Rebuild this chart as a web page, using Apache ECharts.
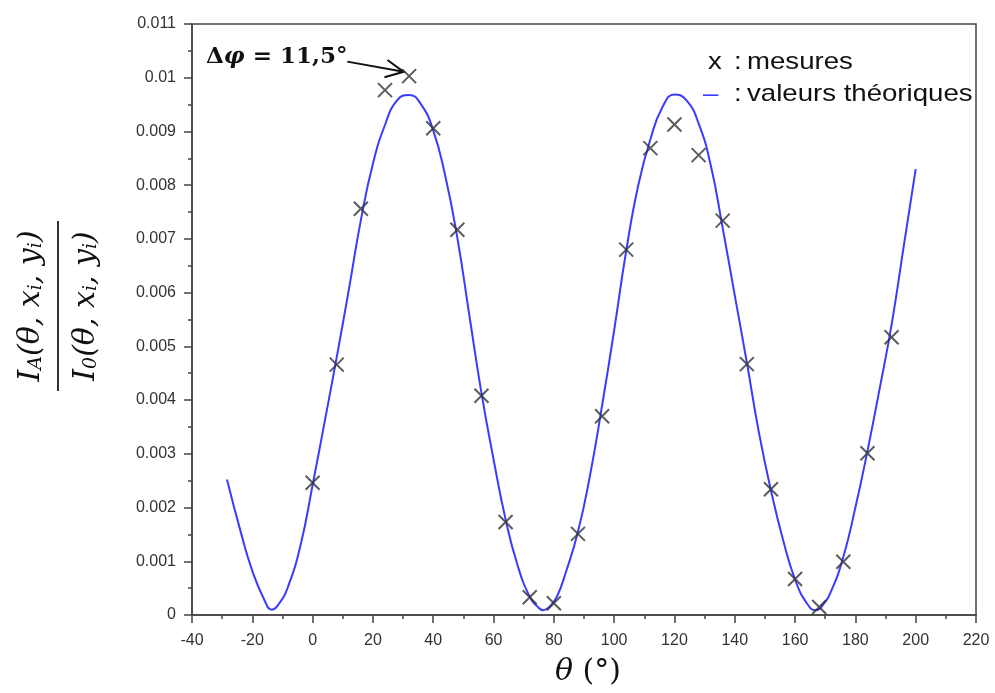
<!DOCTYPE html>
<html><head><meta charset="utf-8">
<script src="https://cdn.jsdelivr.net/npm/echarts/dist/echarts.min.js"></script>
<style>html,body{margin:0;padding:0;background:#fff}#c{width:995px;height:693px}</style>
</head><body><div id="c"></div>
<script>
// Measured points (theta in degrees, ratio I_A/I_0)
const measureTheta = [0,8,16,24,32,40,48,56,64,72,80,88,96,104,112,120,128,136,144,152,160,168,176,184,192];
const measureValues = [0.00246,0.00466,0.00756,0.00977,0.01003,0.00906,0.00717,0.00408,0.00173,0.00033,0.00022,0.00151,0.00370,0.00680,0.00869,0.00913,0.00856,0.00734,0.00467,0.00234,0.00067,0.00015,0.00099,0.00301,0.00517];

// Theoretical curve
const curveTheta = [-28.4,-24,-20,-16,-13.6,-11,-8,-4,0,4,8,12,16,20,24,28,32,36,40,44,48,52,56,60,64,68,72,74.5,76.5,78.5,81,84,88,92,96,100,104,108,112,116,120,124,128,132,136,140,144,148,152,156,160,164,166.8,169,172,176,180,184,188,192,196,200];
const curveValues = [0.00252,0.00158,0.00082,0.00028,0.00010,0.00022,0.00055,0.00130,0.00242,0.00360,0.00480,0.00605,0.00735,0.00840,0.00912,0.00958,0.00968,0.00950,0.00902,0.00817,0.00702,0.00557,0.00413,0.00290,0.00178,0.00092,0.00034,0.00016,0.00009,0.00015,0.00034,0.00080,0.00155,0.00260,0.00390,0.00530,0.00678,0.00800,0.00885,0.00945,0.00969,0.00958,0.00915,0.00838,0.00720,0.00595,0.00470,0.00340,0.00232,0.00140,0.00066,0.00021,0.00009,0.00017,0.00045,0.00108,0.00200,0.00305,0.00420,0.00540,0.00685,0.00830];

// Axis ranges
const xMin = -40, xMax = 220, xStep = 20;
const yMin = 0, yMax = 0.011, yStep = 0.001;

// Annotation anchor (arrow from text to the highlighted measurement)
const arrowFrom = [11.5, 0.01030];
const arrowTo = [30.2, 0.01011];

const chart = echarts.init(document.getElementById('c'), null, {renderer:'canvas'});

const axisCol = '#444';
const option = {
  animation: false,
  backgroundColor: '#fff',
  grid: {left:192, right:19, top:24, bottom:78, show:true, borderColor:axisCol, borderWidth:1.5, backgroundColor:'transparent'},
  xAxis: {
    type:'value', min:xMin, max:xMax, interval:xStep,
    axisLine:{show:true, onZero:false, lineStyle:{color:axisCol, width:1.5}},
    axisTick:{show:true, length:8, lineStyle:{color:axisCol, width:1.5}},
    minorTick:{show:true, splitNumber:2, length:4, lineStyle:{color:axisCol, width:1.5}},
    splitLine:{show:false},
    axisLabel:{fontSize:16, color:'#333', margin:18, fontFamily:'Liberation Sans, Arial, sans-serif'}
  },
  yAxis: {
    type:'value', min:yMin, max:yMax, interval:yStep,
    axisLine:{show:true, onZero:false, lineStyle:{color:axisCol, width:1.5}},
    axisTick:{show:true, length:8, lineStyle:{color:axisCol, width:1.5}},
    minorTick:{show:true, splitNumber:2, length:4, lineStyle:{color:axisCol, width:1.5}},
    splitLine:{show:false},
    axisLabel:{fontSize:16, color:'#333', margin:16, fontFamily:'Liberation Sans, Arial, sans-serif',
      formatter: v => String(+v.toFixed(4))}
  },
  series: [
    {
      type:'line', name:'valeurs théoriques',
      data: curveTheta.map((t,i)=>[t, curveValues[i]]),
      showSymbol:false, smooth:0.5,
      lineStyle:{color:'#3b3bff', width:2},
      z:2
    },
    {
      type:'scatter', name:'mesures',
      data: measureTheta.map((t,i)=>[t, measureValues[i]]),
      symbol:'path://M0,0L10,10M10,0L0,10', symbolSize:14,
      itemStyle:{color:'rgba(0,0,0,0)', borderColor:'#333', borderWidth:2},
      z:3
    }
  ]
};
chart.setOption(option);

const p1 = chart.convertToPixel({gridIndex:0}, arrowFrom);
const p2 = chart.convertToPixel({gridIndex:0}, arrowTo);
const ang = Math.atan2(p2[1]-p1[1], p2[0]-p1[0]);
const hl = 20, ha = 0.45;
const h1 = [p2[0]-hl*Math.cos(ang-ha), p2[1]-hl*Math.sin(ang-ha)];
const h2 = [p2[0]-hl*Math.cos(ang+ha), p2[1]-hl*Math.sin(ang+ha)];

const legFont = 'Liberation Sans, Arial, sans-serif';
const mathFont = 'DejaVu Serif, serif';
const sx = 1.15;
function legText(x, y, text, color) {
  return {type:'text', x:x, y:y, scaleX:sx, style:{text:text, fill:color||'#111', font:'24px ' + legFont, verticalAlign:'middle', align:'left'}};
}
const fracRich = {
  n:{fontStyle:'italic', fontSize:30, fontFamily:mathFont, lineHeight:32, verticalAlign:'bottom'},
  s:{fontStyle:'italic', fontSize:19, fontFamily:mathFont, lineHeight:15, verticalAlign:'bottom'}
};

chart.setOption({
  graphic: [
    // arrow
    {type:'line', shape:{x1:p1[0], y1:p1[1], x2:p2[0], y2:p2[1]}, style:{stroke:'#111', lineWidth:2}},
    {type:'polyline', shape:{points:[h1, p2, h2]}, style:{stroke:'#111', lineWidth:2, fill:null}},
    // annotation text
    {type:'text', x:206, y:57, style:{
      text:'Δ{p|φ} = 11,5°', fill:'#111', font:'bold 23px ' + mathFont, verticalAlign:'middle', align:'left',
      rich:{p:{fontStyle:'italic', fontWeight:'bold', fontSize:23, fontFamily:mathFont, fill:'#111'}}
    }},
    // legend
    legText(708, 62, 'x', '#111'),
    legText(734, 62, ':', '#111'),
    legText(747, 62, 'mesures', '#111'),
    legText(703, 94, '–', '#3b3bff'),
    legText(734, 94, ':', '#111'),
    legText(747, 94, 'valeurs théoriques', '#111'),
    // x axis title
    {type:'text', x:588, y:672, style:{
      text:'{i|θ} (°)', fill:'#111', font:'30px ' + mathFont, align:'center', verticalAlign:'middle',
      rich:{i:{fontStyle:'italic', fontSize:30, fontFamily:mathFont}}
    }},
    // y axis title (rotated fraction)
    {type:'group', x:58, y:306, rotation:Math.PI/2, children:[
      {type:'text', x:0, y:-28, style:{
        text:'{n|I}{s|A}{n|(θ, x}{s|i}{n|, y}{s|i}{n|)}', align:'center', verticalAlign:'middle', fill:'#111', rich:fracRich
      }},
      {type:'line', shape:{x1:-85, y1:0, x2:85, y2:0}, style:{stroke:'#333', lineWidth:2}},
      {type:'text', x:0, y:27, style:{
        text:'{n|I}{s|0}{n|(θ, x}{s|i}{n|, y}{s|i}{n|)}', align:'center', verticalAlign:'middle', fill:'#111', rich:fracRich
      }}
    ]}
  ]
});
</script></body></html>
